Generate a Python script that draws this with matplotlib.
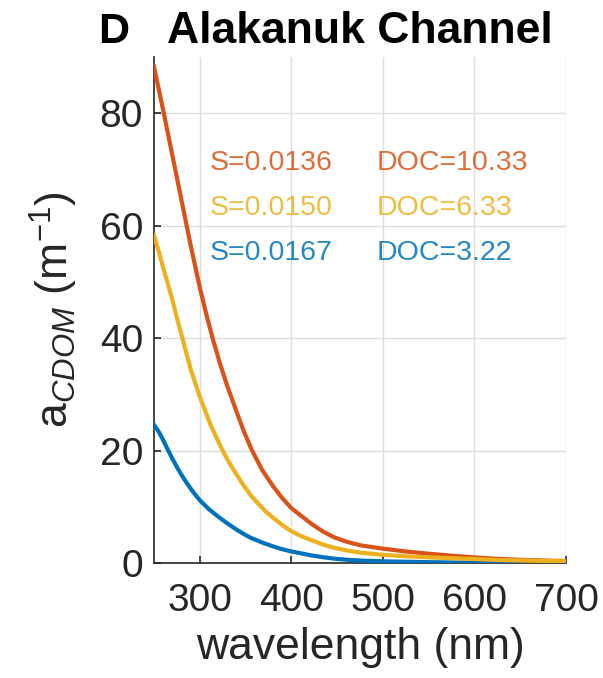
import matplotlib
matplotlib.use("Agg")
import matplotlib.pyplot as plt

plt.rcParams['font.family'] = ['Liberation Sans', 'DejaVu Sans']
plt.rcParams['mathtext.fontset'] = 'custom'
plt.rcParams['mathtext.rm'] = 'Liberation Sans'
plt.rcParams['mathtext.it'] = 'Liberation Sans:italic'

# Data
red_wl = [250, 260, 270, 280, 290, 300, 307, 314, 322, 330, 340, 348, 356, 368,
          380, 390, 400, 411, 422, 435, 447, 460, 475, 500, 525, 550, 575, 600, 625, 650, 675, 700]
red_a = [88.2, 80.5, 72.5, 64.5, 56.5, 49.0, 44.3, 40.0, 35.5, 31.5, 27.0, 23.5,
         20.4, 16.6, 13.7, 11.6, 9.8, 8.4, 7.0, 5.6, 4.6, 3.85, 3.2, 2.6, 2.1, 1.7, 1.35, 1.05,
         0.8, 0.62, 0.5, 0.4]

yel_wl = [250, 255, 260, 265, 270, 275, 281, 290, 300, 312, 325, 332, 340, 348, 356, 365, 372,
          380, 390, 400, 411, 422, 435, 447, 460, 475, 500, 525, 550, 575, 600, 625, 650, 675, 700]
yel_a = [58.3, 55.5, 52.5, 49.7, 46.8, 43.6, 40.0, 34.5, 29.6, 24.5, 20.0, 17.9, 15.8, 13.8, 12.0,
         10.4, 9.2, 8.1, 6.8, 5.7, 4.8, 4.1, 3.3, 2.75, 2.3, 1.9, 1.5, 1.25, 1.05, 0.9, 0.75,
         0.6, 0.5, 0.42, 0.35]

blu_wl = [250, 255, 260, 265, 270, 275, 280, 286, 293, 300, 310, 320, 330, 340, 348, 356, 368,
          380, 390, 400, 411, 422, 435, 447, 460, 475, 500, 525, 550, 575, 600, 625, 650]
blu_a = [24.6, 23.4, 21.9, 20.2, 18.6, 17.1, 15.7, 14.2, 12.6, 11.2, 9.6, 8.3, 7.1, 6.0, 5.2,
         4.5, 3.7, 3.0, 2.5, 2.1, 1.75, 1.4, 1.07, 0.82, 0.63, 0.48, 0.35, 0.27, 0.2, 0.15,
         0.1, 0.07, 0.05]

slopes = ["S=0.0136", "S=0.0150", "S=0.0167"]
docs = ["DOC=10.33", "DOC=6.33", "DOC=3.22"]
label_y = [71.1, 63.1, 55.1]

c_red = (0.85, 0.325, 0.098)
c_yel = (0.929, 0.694, 0.125)
c_blu = (0.0, 0.447, 0.741)
txt_colors = [c_red, c_yel, c_blu]
dark = (0.15, 0.15, 0.15)

fig = plt.figure(figsize=(6.03, 6.78), dpi=100)
ax = fig.add_axes([0.2554, 0.1692, 0.6832, 0.7473])

ax.plot(blu_wl, blu_a, color=c_blu, lw=3.0, zorder=3, solid_joinstyle='round')
ax.plot(red_wl, red_a, color=c_red, lw=3.0, zorder=4, solid_joinstyle='round')
ax.plot(yel_wl, yel_a, color=c_yel, lw=3.0, zorder=5, solid_joinstyle='round')

for s, d, yv, c in zip(slopes, docs, label_y, txt_colors):
    ax.text(310.6, yv, s, color=c, fontsize=20.5, ha='left', va='center', alpha=0.85)
    ax.text(493.7, yv, d, color=c, fontsize=20.5, ha='left', va='center', alpha=0.85)

ax.set_xlim(250, 700)
ax.set_ylim(0, 90)
ax.set_xticks([300, 400, 500, 600, 700])
ax.set_yticks([0, 20, 40, 60, 80])
ax.grid(True, color=(0.87, 0.87, 0.87), lw=1.0)
ax.set_axisbelow(True)
for side in ['top', 'right']:
    ax.spines[side].set_visible(False)
for side in ['left', 'bottom']:
    ax.spines[side].set_color(dark)
    ax.spines[side].set_linewidth(1.2)
ax.tick_params(direction='in', length=5, width=1.2, colors=dark,
               labelsize=28, pad=8)
ax.tick_params(axis='x', pad=14)

ax.set_xlabel('wavelength (nm)', fontsize=32, color=dark, labelpad=6)
ax.set_ylabel(r'a$_{CDOM}$ (m$^{-1}$)', fontsize=32, color=dark, labelpad=14)

fig.text(0.597, 0.953, 'Alakanuk Channel', fontsize=32, fontweight='bold',
         ha='center', va='center')
fig.text(0.189, 0.953, 'D', fontsize=31, fontweight='bold', ha='center', va='center')

fig.savefig('out.png', dpi=100)
